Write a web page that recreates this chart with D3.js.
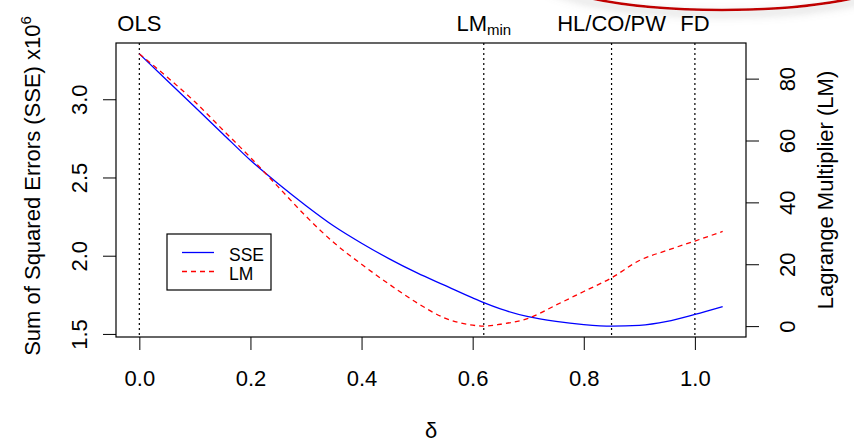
<!DOCTYPE html>
<html lang="en">
  <head>
    <meta charset="UTF-8" />
    <title>SSE and LM by delta</title>
    <script src="https://d3js.org/d3.v7.min.js"></script>
    <style>
      body {
        margin: 0;
        background: #fff;
        font-family: "Liberation Sans", Arial, sans-serif;
      }
      svg {
        display: block;
      }
      .axis text {
        font-size: 22px;
        fill: #000;
      }
      .axis path,
      .axis line {
        stroke: #000;
      }
      .title {
        font-size: 22px;
      }
    </style>
  </head>
  <body>
    <svg width="854" height="444"></svg>
    <script>
      // Data
      const delta = [0, 0.05, 0.1, 0.15, 0.2, 0.25, 0.3, 0.35, 0.4, 0.45, 0.5, 0.55, 0.6, 0.62, 0.65, 0.7, 0.75, 0.8, 0.85, 0.9, 0.95, 1.0, 1.05];
      const sse = [3.29, 3.12, 2.95, 2.78, 2.61, 2.46, 2.32, 2.19, 2.08, 1.98, 1.89, 1.81, 1.73, 1.70, 1.66, 1.61, 1.58, 1.56, 1.55, 1.555, 1.58, 1.625, 1.675];
      const lm = [88, 80.5, 72.5, 63.5, 54.5, 45, 35.5, 27, 20, 13.5, 7.5, 2.6, 0.3, 0, 0.6, 2.5, 6.8, 11.2, 15.6, 21.2, 24.5, 27.5, 30.6];
      const xTicks = [0, 0.2, 0.4, 0.6, 0.8, 1.0];
      const sseTicks = [1.5, 2.0, 2.5, 3.0];
      const lmTicks = [0, 20, 40, 60, 80];
      const markers = [
        { x: 0, label: "OLS" },
        { x: 0.62, label: "LM", sub: "min" },
        { x: 0.85, label: "HL/CO/PW" },
        { x: 1.0, label: "FD" }
      ];

      const svg = d3.select("svg");
      const box = { left: 116, right: 746, top: 43, bottom: 337 };

      // R style 4% padding on each scale
      const pad = (lo, hi) => [lo - 0.04 * (hi - lo), hi + 0.04 * (hi - lo)];
      const x = d3.scaleLinear().domain(pad(0, 1.05)).range([box.left, box.right]);
      const y = d3.scaleLinear().domain(pad(d3.min(sse), d3.max(sse))).range([box.bottom, box.top]);
      const y2 = d3.scaleLinear().domain(pad(0, d3.max(lm))).range([box.bottom, box.top]);

      // decorative red ellipse with shadow at the top
      const defs = svg.append("defs");
      const f = defs.append("filter").attr("id", "shadow").attr("x", "-20%").attr("y", "-50%").attr("width", "140%").attr("height", "200%");
      f.append("feDropShadow").attr("dx", 0).attr("dy", 4).attr("stdDeviation", 4).attr("flood-color", "#888").attr("flood-opacity", 0.6);
      svg.append("ellipse")
        .attr("cx", 722).attr("cy", -30).attr("rx", 186).attr("ry", 40)
        .attr("fill", "none").attr("stroke", "#c00000").attr("stroke-width", 2.5)
        .attr("filter", "url(#shadow)");

      // vertical dotted markers
      svg.selectAll(".marker")
        .data(markers)
        .enter()
        .append("line")
        .attr("x1", (d) => x(d.x)).attr("x2", (d) => x(d.x))
        .attr("y1", box.top).attr("y2", box.bottom)
        .attr("stroke", "#000").attr("stroke-width", 1.2)
        .attr("stroke-dasharray", "2,3");

      const mt = svg.selectAll(".mlabel")
        .data(markers)
        .enter()
        .append("text")
        .attr("class", "title")
        .attr("x", (d) => x(d.x))
        .attr("y", 31)
        .attr("text-anchor", "middle")
        .text((d) => d.label);
      mt.filter((d) => d.sub)
        .append("tspan")
        .attr("font-size", 15)
        .attr("dy", 4)
        .text((d) => d.sub);

      // lines
      const pts = delta.map((d, i) => ({ d, s: sse[i], l: lm[i] }));
      svg.append("path")
        .datum(pts)
        .attr("fill", "none").attr("stroke", "#0000ff").attr("stroke-width", 1.3)
        .attr("d", d3.line().x((p) => x(p.d)).y((p) => y(p.s)).curve(d3.curveMonotoneX));
      svg.append("path")
        .datum(pts)
        .attr("fill", "none").attr("stroke", "#ff0000").attr("stroke-width", 1.3)
        .attr("stroke-dasharray", "5,4")
        .attr("d", d3.line().x((p) => x(p.d)).y((p) => y2(p.l)).curve(d3.curveMonotoneX));

      // plot box
      svg.append("rect")
        .attr("x", box.left).attr("y", box.top)
        .attr("width", box.right - box.left).attr("height", box.bottom - box.top)
        .attr("fill", "none").attr("stroke", "#000").attr("stroke-width", 1.2);

      // x axis
      const gx = svg.append("g")
        .attr("class", "axis")
        .attr("transform", `translate(0,${box.bottom})`)
        .call(d3.axisBottom(x).tickValues(xTicks).tickSize(13).tickPadding(20).tickFormat(d3.format(".1f")));
      gx.select(".domain").remove();

      // left axis
      const gy = svg.append("g")
        .attr("class", "axis")
        .attr("transform", `translate(${box.left},0)`)
        .call(d3.axisLeft(y).tickValues(sseTicks).tickSize(13).tickFormat(d3.format(".1f")));
      gy.select(".domain").remove();
      gy.selectAll("text")
        .attr("transform", "rotate(-90)")
        .attr("x", 0).attr("y", -29).attr("dy", 0)
        .attr("text-anchor", "middle");

      // right axis
      const gy2 = svg.append("g")
        .attr("class", "axis")
        .attr("transform", `translate(${box.right},0)`)
        .call(d3.axisRight(y2).tickValues(lmTicks).tickSize(13));
      gy2.select(".domain").remove();
      gy2.selectAll("text")
        .attr("transform", "rotate(-90)")
        .attr("x", 0).attr("y", 49).attr("dy", 0)
        .attr("text-anchor", "middle");

      // axis titles
      svg.append("text")
        .attr("class", "title")
        .attr("x", (box.left + box.right) / 2)
        .attr("y", 438)
        .attr("text-anchor", "middle")
        .text("δ");

      const lt = svg.append("text")
        .attr("class", "title")
        .attr("transform", `translate(40,186) rotate(-90)`)
        .attr("text-anchor", "middle");
      lt.append("tspan").text("Sum of Squared Errors (SSE) x10");
      lt.append("tspan").attr("font-size", 15).attr("dy", -9).text("6");

      svg.append("text")
        .attr("class", "title")
        .attr("transform", `translate(833,${(box.top + box.bottom) / 2}) rotate(-90)`)
        .attr("text-anchor", "middle")
        .text("Lagrange Multiplier (LM)");

      // legend
      const lg = svg.append("g").attr("transform", "translate(167,234)");
      lg.append("rect")
        .attr("width", 104).attr("height", 56)
        .attr("fill", "#fff").attr("stroke", "#000").attr("stroke-width", 1.2);
      const items = [
        { name: "SSE", color: "#0000ff", dash: null },
        { name: "LM", color: "#ff0000", dash: "5,4" }
      ];
      items.forEach((it, i) => {
        lg.append("line")
          .attr("x1", 15).attr("x2", 47)
          .attr("y1", 18.5 + i * 19).attr("y2", 18.5 + i * 19)
          .attr("stroke", it.color).attr("stroke-width", 1.3)
          .attr("stroke-dasharray", it.dash);
        lg.append("text")
          .attr("x", 62).attr("y", 26.5 + i * 19.5)
          .attr("font-size", 17.5)
          .text(it.name);
      });
    </script>
  </body>
</html>
